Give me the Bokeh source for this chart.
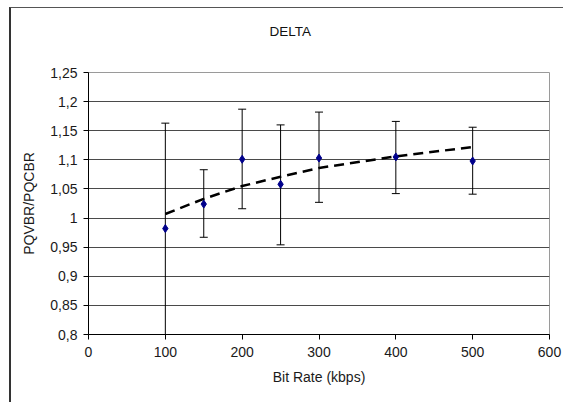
from bokeh.plotting import figure
from bokeh.models import ColumnDataSource, Whisker, TeeHead, FixedTicker
from bokeh.embed import file_html
from bokeh.resources import INLINE

# ---- data ----
bitrate = [100, 150, 200, 250, 300, 400, 500]
ratio = [0.982, 1.024, 1.101, 1.058, 1.103, 1.105, 1.098]
err_upper = [1.163, 1.083, 1.187, 1.160, 1.182, 1.166, 1.156]
err_lower = [0.800, 0.967, 1.016, 0.954, 1.027, 1.042, 1.041]
trend = [1.007, 1.033, 1.055, 1.071, 1.086, 1.106, 1.122]

x_ticks = [0, 100, 200, 300, 400, 500, 600]
y_ticks = [0.8, 0.85, 0.9, 0.95, 1.0, 1.05, 1.1, 1.15, 1.2, 1.25]
y_tick_labels = ["0,8", "0,85", "0,9", "0,95", "1", "1,05", "1,1", "1,15", "1,2", "1,25"]
title_text = "DELTA"

FONT = "Liberation Sans"

p = figure(width=554, height=395, output_backend="svg", toolbar_location=None,
           x_range=(0, 600), y_range=(0.8, 1.25),
           min_border_left=77, min_border_right=16,
           min_border_top=64, min_border_bottom=69,
           title=title_text + "\n ")

# outer chart frame (left and top edges visible in the reference)
p.styles = {"margin-left": "9px", "margin-top": "7px",
            "border-left": "2px solid #333333",
            "border-top": "1px solid #555555"}

p.background_fill_color = "white"
p.border_fill_color = "white"
p.outline_line_color = "#9a9a9a"
p.outline_line_width = 1

# title
p.title.align = "left"
p.title.offset = 181
p.title.text_font = FONT
p.title.text_font_size = "13.5px"
p.title.text_font_style = "normal"
p.title.text_color = "#111111"
p.title.text_line_height = 1.5
p.title.standoff = 23

# grid
p.xgrid.visible = False
p.ygrid.ticker = FixedTicker(ticks=y_ticks)
p.ygrid.grid_line_color = "#4a4a4a"
p.ygrid.grid_line_width = 1

# axes
p.xaxis.ticker = FixedTicker(ticks=x_ticks)
p.yaxis.ticker = FixedTicker(ticks=y_ticks)
p.yaxis.major_label_overrides = {t: l for t, l in zip(y_ticks, y_tick_labels)}
for ax in (p.xaxis[0], p.yaxis[0]):
    ax.axis_line_color = "black"
    ax.axis_line_width = 1
    ax.major_tick_line_color = "black"
    ax.major_tick_in = 0
    ax.major_tick_out = 5
    ax.minor_tick_line_color = None
    ax.major_label_text_font = FONT
    ax.major_label_text_font_size = "14px"
    ax.major_label_text_color = "#1a1a1a"
    ax.axis_label_text_font = FONT
    ax.axis_label_text_font_size = "14px"
    ax.axis_label_text_font_style = "normal"
    ax.axis_label_text_color = "#1a1a1a"

p.xaxis.axis_label = "Bit Rate (kbps)"
p.yaxis.axis_label = "PQVBR/PQCBR"
p.xaxis.major_label_standoff = 7
p.xaxis.axis_label_standoff = 9
p.yaxis.major_label_standoff = 6
p.yaxis.axis_label_standoff = 10

src = ColumnDataSource(dict(x=bitrate, y=ratio, upper=err_upper, lower=err_lower))
tsrc = ColumnDataSource(dict(x=bitrate, y=trend))

# trend line
p.line("x", "y", source=tsrc, line_color="black", line_width=2.5,
       line_dash="10 6")

# error bars
w = Whisker(base="x", upper="upper", lower="lower", source=src,
            line_color="black", line_width=1,
            upper_head=TeeHead(size=8, line_color="black", line_width=1),
            lower_head=TeeHead(size=8, line_color="black", line_width=1))
p.add_layout(w)

# points
p.scatter("x", "y", source=src, marker="diamond", size=8,
          fill_color="#00008b", line_color="#00008b")

open("out.html", "w").write(file_html(p, INLINE))
